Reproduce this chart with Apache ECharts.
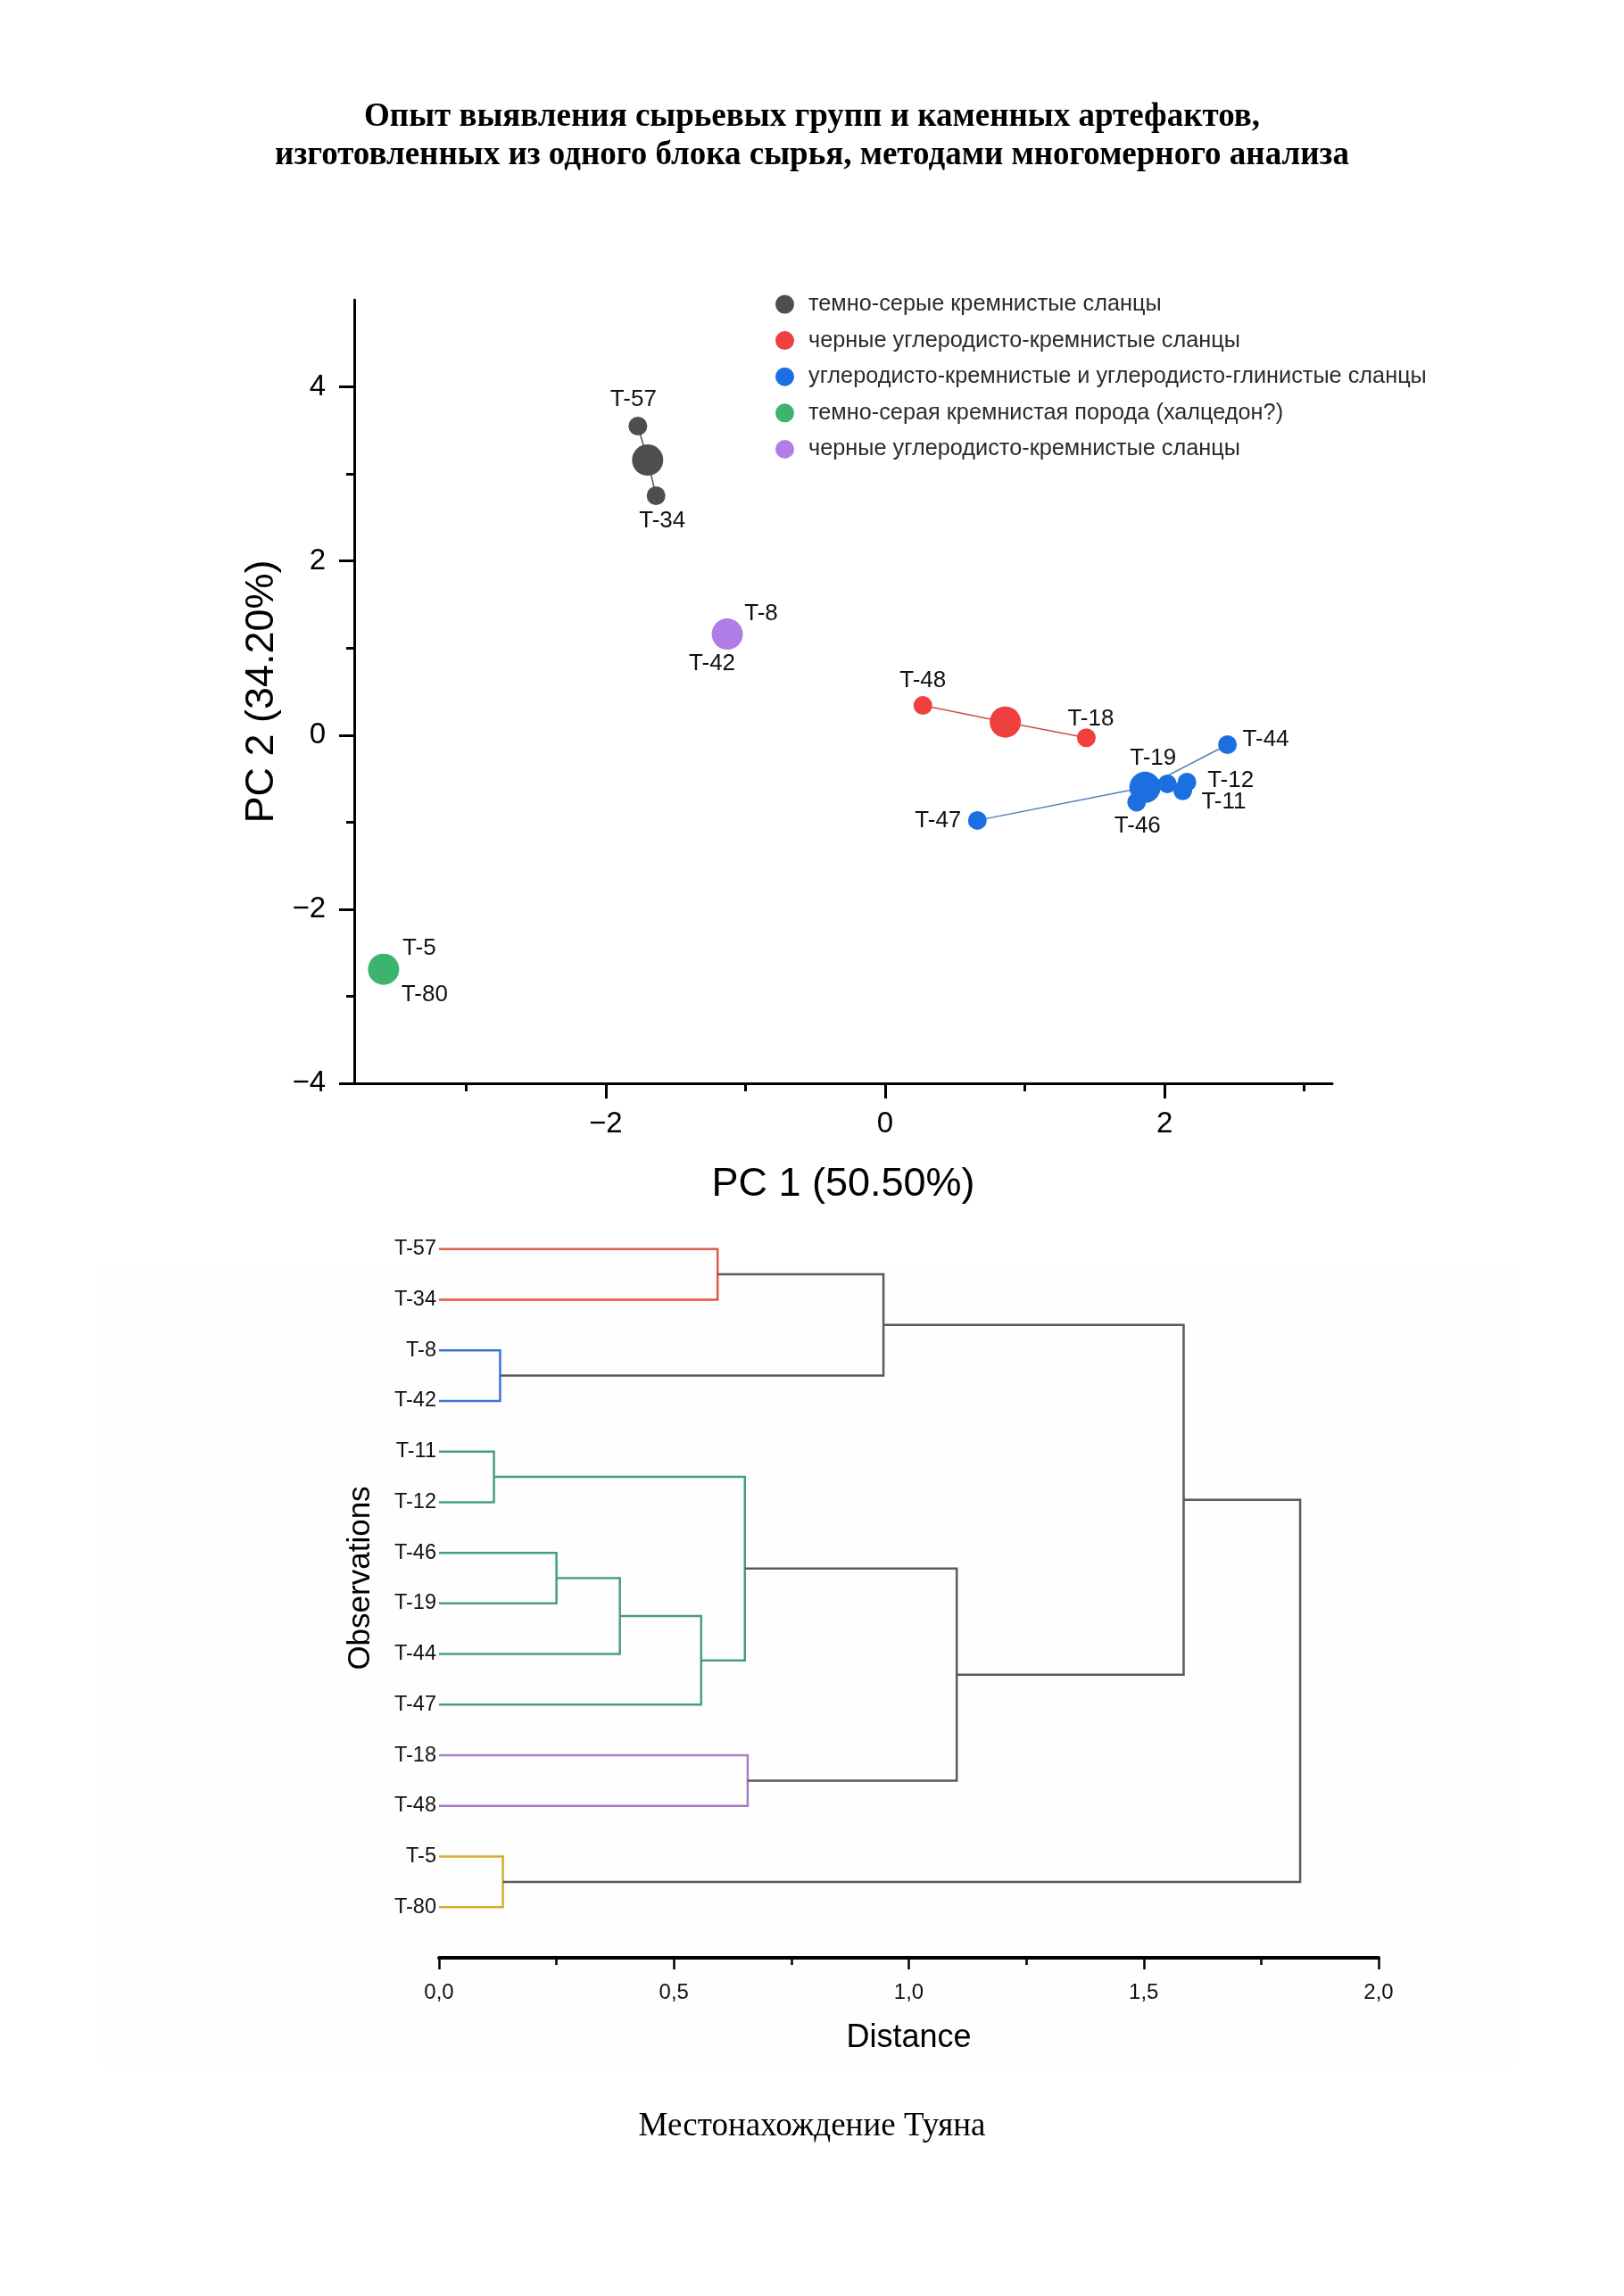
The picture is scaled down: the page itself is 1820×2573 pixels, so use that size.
<!DOCTYPE html>
<html><head><meta charset="utf-8">
<script src="https://cdn.jsdelivr.net/npm/echarts@6/dist/echarts.min.js"></script>
<style>html,body{margin:0;padding:0;background:#fff}#c{width:1820px;height:2573px}</style>
</head><body><div id="c"></div>
<script>
// ---------- DATA ----------
const titleLines = ['Опыт выявления сырьевых групп и каменных артефактов,', 'изготовленных из одного блока сырья, методами многомерного анализа'];
const captionText = 'Местонахождение Туяна';
const groupNames = ['темно-серые кремнистые сланцы', 'черные углеродисто-кремнистые сланцы', 'углеродисто-кремнистые и углеродисто-глинистые сланцы', 'темно-серая кремнистая порода (халцедон?)', 'черные углеродисто-кремнистые сланцы'];
const sampleNames = ['T-57', 'T-34', 'T-48', 'T-18', 'T-19', 'T-12', 'T-11', 'T-46', 'T-44', 'T-47', 'T-5', 'T-80', 'T-8', 'T-42'];
const sampleGroup = [0, 0, 1, 1, 2, 2, 2, 2, 2, 2, 3, 3, 4, 4];
const pc1 = [-1.77, -1.64, 0.27, 1.44, 2.02, 2.16, 2.13, 1.80, 2.45, 0.66, -3.59, -3.59, -1.13, -1.13];
const pc2 = [3.55, 2.75, 0.34, -0.03, -0.56, -0.54, -0.64, -0.77, -0.11, -0.98, -2.69, -2.69, 1.16, 1.16];
const centroidPC1 = [-1.70, 0.86, 1.86, -3.59, -1.13];
const centroidPC2 = [3.16, 0.15, -0.60, -2.69, 1.16];
const pcXTicks = [-2, 0, 2];
const pcXMinorTicks = [-3, -1, 1, 3];
const pcYTicks = [-4, -2, 0, 2, 4];
const pcYMinorTicks = [-3, -1, 1, 3];
const pcXName = 'PC 1 (50.50%)';
const pcYName = 'PC 2 (34.20%)';

const leafOrder = ['T-57', 'T-34', 'T-8', 'T-42', 'T-11', 'T-12', 'T-46', 'T-19', 'T-44', 'T-47', 'T-18', 'T-48', 'T-5', 'T-80'];
const mergeLeft = ['T-57', 'T-8', 'T-11', 'T-46', 'm3', 'm4', 'm2', 'T-18', 'm6', 'm0', 'm9', 'T-5', 'm10'];
const mergeRight = ['T-34', 'T-42', 'T-12', 'T-19', 'T-44', 'T-47', 'm5', 'T-48', 'm7', 'm1', 'm8', 'T-80', 'm11'];
const mergeDistance = [0.593, 0.130, 0.117, 0.250, 0.385, 0.558, 0.651, 0.657, 1.102, 0.946, 1.585, 0.136, 1.833];
const dendroXName = 'Distance';
const dendroYName = 'Observations';

// ---------- STYLE ----------
const SANS = '"Liberation Sans", Arial, sans-serif';
const SERIF = '"Liberation Serif", "Times New Roman", serif';
const groupColors = ['#4e4e4e', '#ef3f3f', '#1c6fe0', '#3cb46d', '#b07de6'];
const spokeColors = ['#555555', '#c94f4f', '#4a7fb8', '#3cb46d', '#b07de6'];
const linkColorByMerge = ['#e4574b', '#3f72d6', '#45a07c', '#45a07c', '#45a07c', '#45a07c', '#45a07c', '#a77dc6', '#5a5a5a', '#5a5a5a', '#5a5a5a', '#d4ac2f', '#5a5a5a'];
const labelOffsets = {
  'T-57': [-5, -30], 'T-34': [7, 28], 'T-8': [38, -23], 'T-42': [-17, 33],
  'T-48': [0, -28], 'T-18': [5, -21], 'T-44': [43, -6], 'T-19': [-16, -29],
  'T-12': [49, -2], 'T-11': [46, 13], 'T-46': [1, 27], 'T-47': [-44, 0],
  'T-5': [40, -23], 'T-80': [46, 29]
};
const minusFmt = v => String(v).replace('-', '\u2212');

// ---------- BUILD ----------
const chart = echarts.init(document.getElementById('c'), null, {renderer: 'canvas'});
const series = [];

const spokeData = sampleNames.map((n, i) => {
  const g = sampleGroup[i];
  return {coords: [[centroidPC1[g], centroidPC2[g]], [pc1[i], pc2[i]]], lineStyle: {color: spokeColors[g]}};
});
series.push({type: 'lines', coordinateSystem: 'cartesian2d', xAxisIndex: 0, yAxisIndex: 0,
  data: spokeData, lineStyle: {width: 1.5, opacity: 1}, z: 1, silent: true});

const legendNames = groupNames.map((n, g) => g === 4 ? n + '\u200b' : n);
groupNames.forEach((n, g) => {
  const pts = [];
  sampleNames.forEach((s, i) => {
    if (sampleGroup[i] !== g) return;
    pts.push({value: [pc1[i], pc2[i]], name: s, label: {offset: labelOffsets[s]}});
  });
  series.push({type: 'scatter', name: 'centroid' + g, xAxisIndex: 0, yAxisIndex: 0,
    data: [[centroidPC1[g], centroidPC2[g]]], symbolSize: 35, z: 2,
    itemStyle: {color: groupColors[g], opacity: 1}, silent: true});
  series.push({type: 'scatter', name: legendNames[g], xAxisIndex: 0, yAxisIndex: 0,
    data: pts, symbolSize: 21, z: 3, itemStyle: {color: groupColors[g], opacity: 1},
    label: {show: true, formatter: '{b}', position: 'inside', align: 'center', verticalAlign: 'middle',
      fontSize: 26, fontFamily: SANS, color: '#111'},
    emphasis: {disabled: true}});
});

// dendrogram geometry (through axes)
const nodeX = {}, nodeY = {};
leafOrder.forEach((n, i) => { nodeX[n] = 0; nodeY[n] = i; });
mergeLeft.forEach((a, i) => {
  const b = mergeRight[i];
  nodeX['m' + i] = mergeDistance[i];
  nodeY['m' + i] = (nodeY[a] + nodeY[b]) / 2;
});
const dendroData = mergeLeft.map((a, i) => {
  const b = mergeRight[i];
  return [nodeX[a], nodeY[a], mergeDistance[i], nodeX[b], nodeY[b], i];
});
series.push({type: 'custom', xAxisIndex: 2, yAxisIndex: 2, data: dendroData,
  encode: {x: [0, 2, 3], y: [1, 4]}, silent: true, z: 3,
  renderItem: (params, api) => {
    const p = [[api.value(0), api.value(1)], [api.value(2), api.value(1)], [api.value(2), api.value(4)], [api.value(3), api.value(4)]].map(q => api.coord(q));
    return {type: 'polyline', shape: {points: p}, style: {stroke: linkColorByMerge[api.value(5)], lineWidth: 2.5, fill: null}};
  }});

const blackLine = {color: '#000', width: 3};
const option = {
  animation: false,
  backgroundColor: '#fff',
  grid: [
    {left: 397, top: 336, width: 1096, height: 878},
    {left: 492, top: 1343, width: 1053, height: 851}
  ],
  legend: {
    data: legendNames, orient: 'vertical', left: 869, top: 328, padding: 0,
    icon: 'circle', itemWidth: 21, itemHeight: 21, itemGap: 14.6,
    textStyle: {fontSize: 25.3, lineHeight: 26, fontFamily: SANS, color: '#2b2b2b', padding: [0, 0, 0, 11]},
    formatter: n => n.replace('\u200b', ''),
    selectedMode: false
  },
  xAxis: [
    {gridIndex: 0, type: 'value', min: -3.8, max: 3.2,
      name: pcXName, nameLocation: 'middle', nameGap: 91,
      nameTextStyle: {fontSize: 45, fontFamily: SANS, color: '#000'},
      axisLine: {onZero: false, lineStyle: blackLine},
      axisTick: {customValues: pcXTicks, length: 17, lineStyle: blackLine},
      axisLabel: {customValues: pcXTicks, fontSize: 33, fontFamily: SANS, color: '#000', margin: 29, formatter: minusFmt},
      splitLine: {show: false}},
    {gridIndex: 0, type: 'value', min: -3.8, max: 3.2, position: 'bottom',
      axisLine: {show: false, onZero: false},
      axisTick: {customValues: pcXMinorTicks, length: 9, lineStyle: blackLine},
      axisLabel: {show: false}, splitLine: {show: false}},
    {gridIndex: 1, type: 'value', min: 0, max: 2, interval: 0.5,
      name: dendroXName, nameLocation: 'middle', nameGap: 72,
      nameTextStyle: {fontSize: 36, fontFamily: SANS, color: '#000'},
      axisLine: {onZero: false, lineStyle: {color: '#000', width: 4}},
      axisTick: {length: 13, lineStyle: {color: '#000', width: 2.5}},
      minorTick: {show: true, splitNumber: 2, length: 8, lineStyle: {color: '#000', width: 2.5}},
      axisLabel: {fontSize: 24, fontFamily: SANS, color: '#111', margin: 27, formatter: v => v.toFixed(1).replace('.', ',')},
      splitLine: {show: false}}
  ],
  yAxis: [
    {gridIndex: 0, type: 'value', min: -4, max: 5,
      name: pcYName, nameLocation: 'middle', nameGap: 81, nameRotate: 90,
      nameTextStyle: {fontSize: 45, fontFamily: SANS, color: '#000'},
      axisLine: {onZero: false, lineStyle: blackLine},
      axisTick: {customValues: pcYTicks, length: 17, lineStyle: blackLine},
      axisLabel: {customValues: pcYTicks, fontSize: 33, fontFamily: SANS, color: '#000', margin: 32, formatter: minusFmt},
      splitLine: {show: false}},
    {gridIndex: 0, type: 'value', min: -4, max: 5, position: 'left',
      axisLine: {show: false, onZero: false},
      axisTick: {customValues: pcYMinorTicks, length: 9, lineStyle: blackLine},
      axisLabel: {show: false}, splitLine: {show: false}},
    {gridIndex: 1, type: 'value', min: -1, max: 14, interval: 1, inverse: true,
      name: dendroYName, nameLocation: 'middle', nameGap: 70, nameRotate: 90,
      nameTextStyle: {fontSize: 35, fontFamily: SANS, color: '#000'},
      axisLine: {show: false}, axisTick: {show: false},
      axisLabel: {fontSize: 23.5, fontFamily: SANS, color: '#111', margin: 3, formatter: v => leafOrder[v] || ''},
      splitLine: {show: false}}
  ],
  graphic: [
    {type: 'rect', shape: {x: 112, y: 1420, width: 1586, height: 895}, style: {fill: '#fefefe'}, z: -10, silent: true},
    {type: 'text', x: 910, y: 131, style: {text: titleLines[0], font: 'bold 37px ' + SERIF, align: 'center', verticalAlign: 'middle', fill: '#000'}},
    {type: 'text', x: 910, y: 174, style: {text: titleLines[1], font: 'bold 37px ' + SERIF, align: 'center', verticalAlign: 'middle', fill: '#000'}},
    {type: 'text', x: 910, y: 2383, style: {text: captionText, font: '37px ' + SERIF, align: 'center', verticalAlign: 'middle', fill: '#000'}}
  ],
  series: series
};
chart.setOption(option);
</script>
</body></html>
